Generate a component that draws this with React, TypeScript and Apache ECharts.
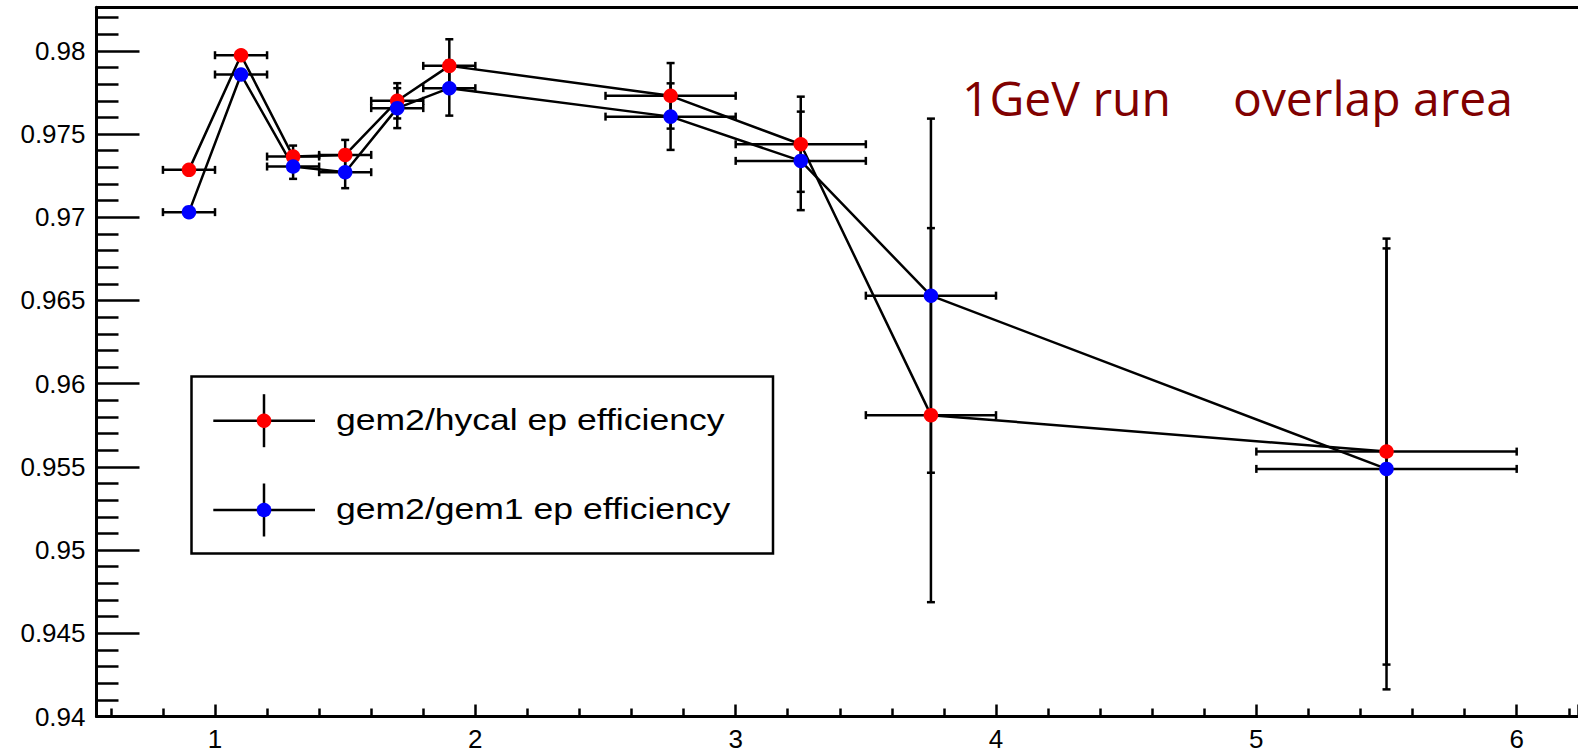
import React, { useEffect, useRef } from "react";
import * as echarts from "echarts";

// ---- data ----
const xValues = [0.9, 1.1, 1.3, 1.5, 1.7, 1.9, 2.75, 3.25, 3.75, 5.5];
const xErrors = [0.1, 0.1, 0.1, 0.1, 0.1, 0.1, 0.25, 0.25, 0.25, 0.5];
const hycalEff = [0.97285, 0.97974, 0.97365, 0.97375, 0.977, 0.9791, 0.9773, 0.97439, 0.95811, 0.95592];
const hycalErr = [0.0002, 0.0002, 0.00066, 0.0009, 0.00106, 0.0016, 0.00197, 0.00286, 0.01124, 0.0128];
const gem1Eff = [0.97031, 0.97858, 0.97305, 0.97271, 0.97656, 0.97776, 0.97605, 0.97339, 0.96529, 0.95488];
const gem1Err = [0.0002, 0.0002, 0.00074, 0.00096, 0.0012, 0.00165, 0.002, 0.00296, 0.01064, 0.01325];
const seriesNames = ["gem2/hycal ep efficiency", "gem2/gem1 ep efficiency"];
const seriesColors = ["#ff0000", "#0000ff"];
const annotations = ["1GeV run", "overlap area"];
const xRange = [0.5448, 6.2355];
const yRange = [0.94, 0.98262];
const yInterval = 0.005;

const W = 1578;
const H = 754;

function errorBars(params: any, api: any) {
  const x = api.value(0);
  const y = api.value(1);
  const ex = api.value(2);
  const ey = api.value(3);
  const c = api.coord([x, y]);
  const l = api.coord([x - ex, y]);
  const r = api.coord([x + ex, y]);
  const t = api.coord([x, y + ey]);
  const b = api.coord([x, y - ey]);
  const cap = 4;
  const st = { stroke: "#000", lineWidth: 2.5 };
  const ln = (x1: number, y1: number, x2: number, y2: number) => ({
    type: "line",
    shape: { x1, y1, x2, y2 },
    style: st,
  });
  return {
    type: "group",
    children: [
      ln(l[0], c[1], r[0], c[1]),
      ln(l[0], c[1] - cap, l[0], c[1] + cap),
      ln(r[0], c[1] - cap, r[0], c[1] + cap),
      ln(c[0], t[1], c[0], b[1]),
      ln(c[0] - cap, t[1], c[0] + cap, t[1]),
      ln(c[0] - cap, b[1], c[0] + cap, b[1]),
    ],
  };
}

export default function App() {
  const ref = useRef<HTMLDivElement>(null);

  useEffect(() => {
    if (!ref.current) return;
    const chart = echarts.init(ref.current, undefined, { renderer: "svg", width: W, height: H });

    const effs = [hycalEff, gem1Eff];
    const errs = [hycalErr, gem1Err];

    const series: any[] = [];
    effs.forEach((eff, k) => {
      series.push({
        type: "line",
        name: seriesNames[k] + " line",
        data: xValues.map((x, i) => [x, eff[i]]),
        showSymbol: false,
        lineStyle: { color: "#000", width: 2.5 },
        z: 2,
        silent: true,
      });
    });
    effs.forEach((eff, k) => {
      series.push({
        type: "custom",
        name: seriesNames[k] + " errors",
        renderItem: errorBars,
        data: xValues.map((x, i) => [x, eff[i], xErrors[i], errs[k][i]]),
        z: 3,
        silent: true,
      });
    });
    effs.forEach((eff, k) => {
      series.push({
        type: "scatter",
        name: seriesNames[k],
        data: xValues.map((x, i) => [x, eff[i]]),
        symbol: "circle",
        symbolSize: 14.5,
        itemStyle: { color: seriesColors[k], borderWidth: 0, opacity: 1 },
        z: 5,
        silent: true,
      });
    });

    const legendLeft = 191.5;
    const legendTop = 376.5;
    const legendW = 581.5;
    const legendH = 177;
    const entryY = [420.7, 510];
    const markerX = 264;

    const graphic: any[] = [
      {
        type: "rect",
        shape: { x: legendLeft, y: legendTop, width: legendW, height: legendH },
        style: { fill: "#fff", stroke: "#000", lineWidth: 2.5 },
        z: 100,
      },
    ];
    entryY.forEach((ey, k) => {
      graphic.push(
        { type: "line", shape: { x1: 213.3, y1: ey, x2: 315, y2: ey }, style: { stroke: "#000", lineWidth: 2.5 }, z: 101 },
        { type: "line", shape: { x1: markerX, y1: ey - 26.5, x2: markerX, y2: ey + 26.5 }, style: { stroke: "#000", lineWidth: 2.5 }, z: 101 },
        { type: "circle", shape: { cx: markerX, cy: ey, r: 7.3 }, style: { fill: seriesColors[k] }, z: 102 },
        {
          type: "text",
          x: 336,
          y: ey - 1.5,
          scaleX: 1.185,
          z: 102,
          style: {
            text: seriesNames[k],
            font: "30px 'Liberation Sans'",
            fill: "#000",
            align: "left",
            verticalAlign: "middle",
          },
        }
      );
    });
    graphic.push(
      {
        type: "text",
        x: 962,
        y: 97,
        z: 102,
        style: { text: annotations[0], font: "48px 'Open Sans'", fill: "#800000", align: "left", verticalAlign: "middle" },
      },
      {
        type: "text",
        x: 1233,
        y: 97,
        z: 102,
        style: { text: annotations[1], font: "48px 'Open Sans'", fill: "#800000", align: "left", verticalAlign: "middle" },
      }
    );

    const labelFont = { fontFamily: "'Liberation Sans'", fontSize: 26, color: "#000" };

    chart.setOption({
      animation: false,
      backgroundColor: "#fff",
      grid: { left: 96.5, right: 0, top: 7.3, bottom: 37.5, containLabel: false },
      xAxis: [
        {
          type: "value",
          min: xRange[0],
          max: xRange[1],
          splitNumber: 5,
          axisLine: { show: true, onZero: false, lineStyle: { color: "#000", width: 3 } },
          axisTick: { show: true, inside: true, length: 12, lineStyle: { color: "#000", width: 2.5 } },
          minorTick: { show: true, splitNumber: 5, length: 8, lineStyle: { color: "#000", width: 2.5 } },
          splitLine: { show: false },
          minorSplitLine: { show: false },
          axisLabel: { ...labelFont, margin: 9, showMinLabel: false, showMaxLabel: false },
        },
        {
          type: "value",
          position: "top",
          min: xRange[0],
          max: xRange[1],
          axisLine: { show: true, onZero: false, lineStyle: { color: "#000", width: 3 } },
          axisTick: { show: false },
          axisLabel: { show: false },
          splitLine: { show: false },
        },
      ],
      yAxis: {
        type: "value",
        min: yRange[0],
        max: yRange[1],
        interval: yInterval,
        axisLine: { show: true, onZero: false, lineStyle: { color: "#000", width: 3 } },
        axisTick: { show: true, inside: true, length: 43, lineStyle: { color: "#000", width: 2.5 } },
        minorTick: { show: true, splitNumber: 5, length: 22, lineStyle: { color: "#000", width: 2.5 } },
        splitLine: { show: false },
        minorSplitLine: { show: false },
        axisLabel: { ...labelFont, margin: 11, showMaxLabel: false },
      },
      series,
      graphic,
    });

    return () => {
      chart.dispose();
    };
  }, []);

  return (
    <div
      ref={ref}
      style={{ position: "fixed", left: 0, top: 0, width: W, height: H, background: "#fff" }}
    />
  );
}
